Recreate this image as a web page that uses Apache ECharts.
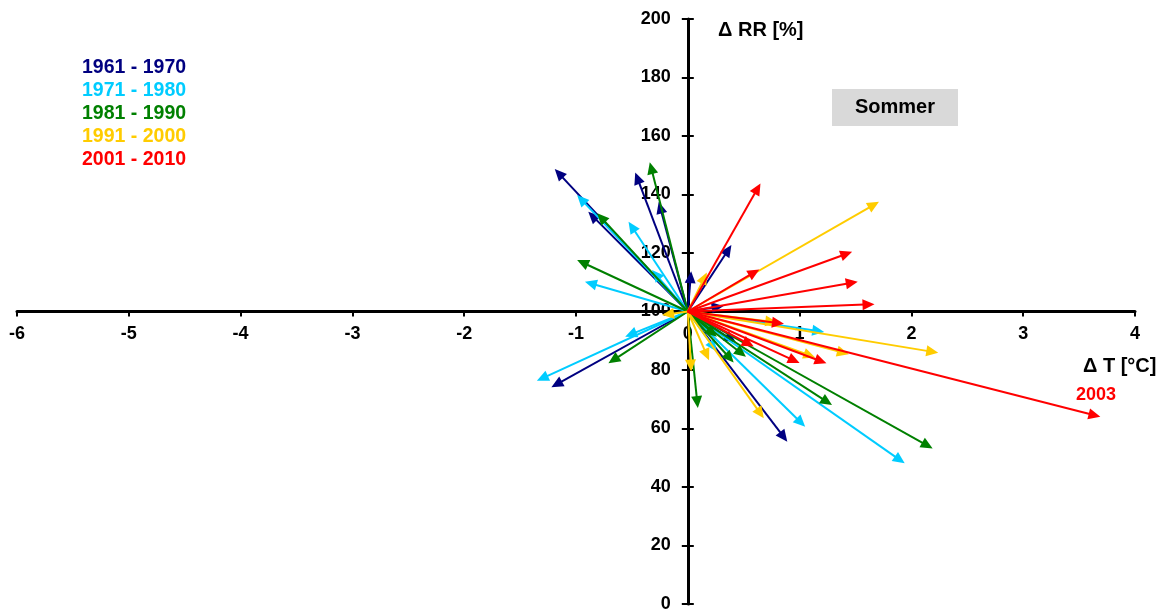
<!DOCTYPE html>
<html>
<head>
<meta charset="utf-8">
<script src="https://cdn.jsdelivr.net/npm/echarts@6/dist/echarts.min.js"></script>
<style>html,body{margin:0;padding:0;background:#fff}#c{width:1165px;height:613px}</style>
</head>
<body>
<div id="c"></div>
<script>
// Decades (legend labels) and colours
const decades = ['1961 - 1970', '1971 - 1980', '1981 - 1990', '1991 - 2000', '2001 - 2010'];
const colors = ['#000080', '#00CCFF', '#008000', '#FFCC00', '#FF0000'];

// Arrow end points: ΔT [°C] and RR [%] (origin is ΔT=0, RR=100)
const dT_1961 = [-1.19, -0.89, -0.47, -0.26, 0.03, 0.39, 0.32, -1.22, 0.43, 0.89];
const rr_1961 = [148.7, 134.1, 147.5, 137.5, 113.8, 122.7, 101.9, 74.1, 89.5, 55.5];

const dT_1971 = [-0.99, -0.92, -0.53, -0.32, -0.56, -1.35, 1.22, 0.26, 1.05, 1.94];
const rr_1971 = [139.8, 110.2, 130.7, 114.2, 91.4, 76.3, 93.0, 86.3, 60.6, 48.1];

const dT_1981 = [-0.81, -0.99, -0.34, -0.71, 0.09, 0.26, 0.52, 0.41, 1.29, 2.19];
const rr_1981 = [133.6, 117.6, 151.0, 82.3, 67.0, 91.4, 84.5, 82.6, 68.0, 53.2];

const dT_1991 = [0.17, 1.71, -0.23, 0.03, 0.80, 2.24, 1.44, 1.14, 0.19, 0.68];
const rr_1991 = [113.3, 137.5, 98.8, 79.5, 96.3, 85.9, 85.4, 84.3, 83.3, 63.5];

const dT_2001 = [0.65, 1.47, 0.64, 1.52, 1.67, 0.86, 3.69, 1.24, 1.00, 0.59];
const rr_2001 = [143.8, 120.4, 114.4, 110.2, 102.5, 95.8, 64.0, 82.3, 82.4, 88.0];

const xTicks = [-6, -5, -4, -3, -2, -1, 0, 1, 2, 3, 4];
const yTicks = [0, 20, 40, 60, 80, 100, 120, 140, 160, 180, 200];

const allDT = [dT_1961, dT_1971, dT_1981, dT_1991, dT_2001];
const allRR = [rr_1961, rr_1971, rr_1981, rr_1991, rr_2001];

const BASE = 100; // RR reference (axes cross here)
const FONT = '"Liberation Sans", Arial, sans-serif';

const W = 1165, H = 613;
const G = { left: 17, right: 30, top: 19, bottom: 9 };
const gw = W - G.left - G.right, gh = H - G.top - G.bottom;
const xMin = xTicks[0], xMax = xTicks[xTicks.length - 1];
const yMin = yTicks[0], yMax = yTicks[yTicks.length - 1];
const fracX0 = (0 - xMin) / (xMax - xMin);
const fracY0 = (BASE - yMin) / (yMax - yMin);

const HEAD_LEN = 12, HEAD_HALF = 5.5;

function arrowItem(color) {
  return function (params, api) {
    const p0 = api.coord([0, BASE]);
    const p1 = api.coord([api.value(0), api.value(1)]);
    const dx = p1[0] - p0[0], dy = p1[1] - p0[1];
    const len = Math.sqrt(dx * dx + dy * dy) || 1;
    const ux = dx / len, uy = dy / len;
    const bx = p1[0] - ux * HEAD_LEN, by = p1[1] - uy * HEAD_LEN;
    const nx = -uy, ny = ux;
    return {
      type: 'group',
      children: [
        { type: 'line', shape: { x1: p0[0], y1: p0[1], x2: bx + ux * 2, y2: by + uy * 2 },
          style: { stroke: color, lineWidth: 2 } },
        { type: 'polygon', shape: { points: [[p1[0], p1[1]],
            [bx + nx * HEAD_HALF, by + ny * HEAD_HALF], [bx - nx * HEAD_HALF, by - ny * HEAD_HALF]] },
          style: { fill: color } }
      ]
    };
  };
}

const series = decades.map((name, i) => ({
  name: name,
  type: 'custom',
  coordinateSystem: 'cartesian2d',
  renderItem: arrowItem(colors[i]),
  itemStyle: { color: colors[i] },
  silent: true,
  clip: false,
  z: 3 + i,
  encode: { x: 0, y: 1 },
  data: allDT[i].map((x, k) => [x, allRR[i][k]])
}));

const yBase = {
  type: 'value', min: yMin, max: yMax, interval: 20,
  position: 'left',
  offset: -fracX0 * gw,
  splitLine: { show: false }
};

const chart = echarts.init(document.getElementById('c'), null, { renderer: 'canvas' });
chart.setOption({
  animation: false,
  backgroundColor: '#fff',
  textStyle: { fontFamily: FONT },
  grid: Object.assign({ containLabel: false, outerBoundsMode: 'none' }, G),
  legend: {
    orient: 'vertical',
    left: 72, top: 53,
    itemGap: 3,
    itemWidth: 0, itemHeight: 0,
    icon: 'none',
    selectedMode: false,
    data: decades.map((d, i) => ({ name: d, icon: 'none',
      textStyle: { color: colors[i], fontWeight: 'bold', fontSize: 19.5, fontFamily: FONT } })),
    textStyle: { fontFamily: FONT, fontWeight: 'bold', fontSize: 19.5 }
  },
  xAxis: {
    type: 'value', min: xMin, max: xMax, interval: 1,
    position: 'bottom',
    offset: -fracY0 * gh,
    axisLine: { onZero: false, lineStyle: { color: '#000', width: 3 } },
    axisTick: { show: true, length: 5, lineStyle: { color: '#000', width: 2 } },
    axisLabel: { color: '#000', fontWeight: 'bold', fontSize: 18, fontFamily: FONT, margin: 14,
      showMinLabel: true, showMaxLabel: true, hideOverlap: false },
    splitLine: { show: false }
  },
  yAxis: [Object.assign({}, yBase, {
    axisLine: { onZero: false, lineStyle: { color: '#000', width: 3 } },
    axisTick: { show: true, length: 6, lineStyle: { color: '#000', width: 2 } },
    axisLabel: { color: '#000', fontWeight: 'bold', fontSize: 18, fontFamily: FONT, margin: 17,
      showMinLabel: true, showMaxLabel: true, hideOverlap: false }
  }), Object.assign({}, yBase, {
    axisLine: { show: true, onZero: false, lineStyle: { color: 'rgba(0,0,0,0)', width: 1 } },
    axisTick: { show: true, inside: true, length: 6, lineStyle: { color: '#000', width: 2 } },
    axisLabel: { show: false }
  })],
  graphic: [
    { type: 'text', left: 718, top: 20, z: 10,
      style: { text: 'Δ RR [%]', font: 'bold 20px ' + FONT, fill: '#000' } },
    { type: 'text', left: 1083, top: 356, z: 10,
      style: { text: 'Δ T [°C]', font: 'bold 20px ' + FONT, fill: '#000' } },
    { type: 'text', left: 1076, top: 386, z: 10,
      style: { text: '2003', font: 'bold 18px ' + FONT, fill: '#FF0000' } },
    { type: 'rect', left: 832, top: 89, z: 1,
      shape: { width: 126, height: 37 }, style: { fill: '#D9D9D9' } },
    { type: 'text', left: 855, top: 97, z: 2,
      style: { text: 'Sommer', font: 'bold 20px ' + FONT, fill: '#000' } }
  ],
  series: series
});
</script>
</body>
</html>
